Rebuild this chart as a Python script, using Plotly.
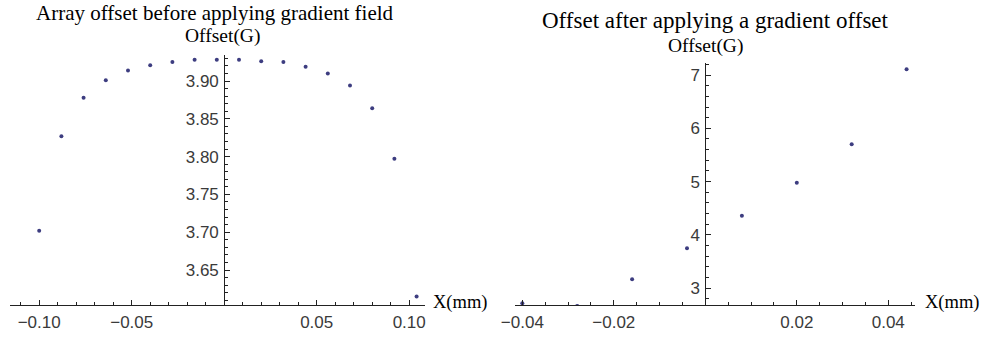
import plotly.graph_objects as go

# ---------------- data ----------------
x_before = [-0.100, -0.088, -0.076, -0.064, -0.052, -0.040, -0.028, -0.016, -0.004,
            0.008, 0.020, 0.032, 0.044, 0.056, 0.068, 0.080, 0.092, 0.104]
y_before = [3.702, 3.827, 3.878, 3.901, 3.914, 3.921, 3.925, 3.928, 3.928,
            3.928, 3.926, 3.925, 3.919, 3.910, 3.894, 3.864, 3.797, 3.615]

x_after = [-0.040, -0.028, -0.016, -0.004, 0.008, 0.020, 0.032, 0.044]
y_after = [2.72, 2.67, 3.17, 3.75, 4.36, 4.98, 5.70, 7.11]

left_xticks = [-0.10, -0.05, 0.0, 0.05, 0.10]
left_xlabels = ["\u22120.10", "\u22120.05", "", "0.05", "0.10"]
left_yticks = [3.65, 3.70, 3.75, 3.80, 3.85, 3.90]
left_ylabels = ["3.65", "3.70", "3.75", "3.80", "3.85", "3.90"]

right_xticks = [-0.04, -0.02, 0.0, 0.02, 0.04]
right_xlabels = ["\u22120.04", "\u22120.02", "", "0.02", "0.04"]
right_yticks = [3, 4, 5, 6, 7]
right_ylabels = ["3", "4", "5", "6", "7"]

title_left = "Array offset before applying gradient field"
title_right = "Offset after applying a gradient offset"
ylab = "Offset(G)"
xlab = "X(mm)"

# ---------------- layout helpers ----------------
W, H = 982, 337
def px(x):
    return x / W
def py(y):
    return 1 - y / H

SERIF = "Liberation Serif"
SANS = "Liberation Sans"
TICKFONT = dict(family=SANS, size=17, color="#3a3a3a")
AXCOL = "#222222"
DOTCOL = "#3d3d80"

fig = go.Figure()
fig.add_trace(go.Scatter(x=x_before, y=y_before, mode="markers", xaxis="x", yaxis="y",
                         marker=dict(size=4, color=DOTCOL), showlegend=False))
fig.add_trace(go.Scatter(x=x_after, y=y_after, mode="markers", xaxis="x2", yaxis="y2",
                         marker=dict(size=4, color=DOTCOL), showlegend=False))

def xaxis(dom, rng, tv, tt, minor_dt, anchor):
    return dict(domain=dom, range=rng, anchor=anchor, tickmode="array", tickvals=tv, ticktext=tt,
                ticks="inside", ticklen=5, tickwidth=1, tickcolor=AXCOL, automargin=False,
                minor=dict(dtick=minor_dt, tick0=0, ticks="inside", ticklen=3, tickcolor=AXCOL, showgrid=False),
                showline=True, linecolor=AXCOL, linewidth=1, showgrid=False, zeroline=False,
                tickfont=TICKFONT, ticklabelstandoff=2)

def yaxis(dom, rng, tv, tt, minor_dt, pos):
    return dict(domain=dom, range=rng, anchor="free", position=pos, side="left",
                tickmode="array", tickvals=tv, ticktext=tt, automargin=False,
                ticks="inside", ticklen=5, tickwidth=1, tickcolor=AXCOL,
                minor=dict(dtick=minor_dt, tick0=0, ticks="inside", ticklen=3, tickcolor=AXCOL, showgrid=False),
                showline=True, linecolor=AXCOL, linewidth=1, showgrid=False, zeroline=False,
                tickfont=TICKFONT, ticklabelstandoff=2)

fig.update_layout(
    width=W, height=H, margin=dict(l=0, r=0, t=0, b=0, pad=0, autoexpand=False),
    paper_bgcolor="white", plot_bgcolor="white",
    xaxis=xaxis([px(10), px(425)], [-0.11578, 0.10854], left_xticks, left_xlabels, 0.01, "y"),
    yaxis=yaxis([py(305), py(55)], [3.6037, 3.9344], left_yticks, left_ylabels, 0.01, px(224.2)),
    xaxis2=xaxis([px(515), px(915)], [-0.04160, 0.04584], right_xticks, right_xlabels, 0.005, "y2"),
    yaxis2=yaxis([py(305), py(63)], [2.687, 7.225], right_yticks, right_ylabels, 0.2, px(705.3)),
)

def ann(text, x, y, size, xanchor="center"):
    fig.add_annotation(text=text, x=px(x), y=py(y), xref="paper", yref="paper",
                       xanchor=xanchor, yanchor="middle", showarrow=False, borderpad=0,
                       font=dict(family=SERIF, size=size, color="black"))

ann(title_left, 215, 13.5, 21)
ann(title_right, 715, 20, 23)
ann(ylab, 222.5, 36, 19.5)
ann(ylab, 705.3, 46, 19.5)
ann(xlab, 432, 302, 18.5, "left")
ann(xlab, 924, 302, 18.5, "left")

fig.write_html("out.html")
